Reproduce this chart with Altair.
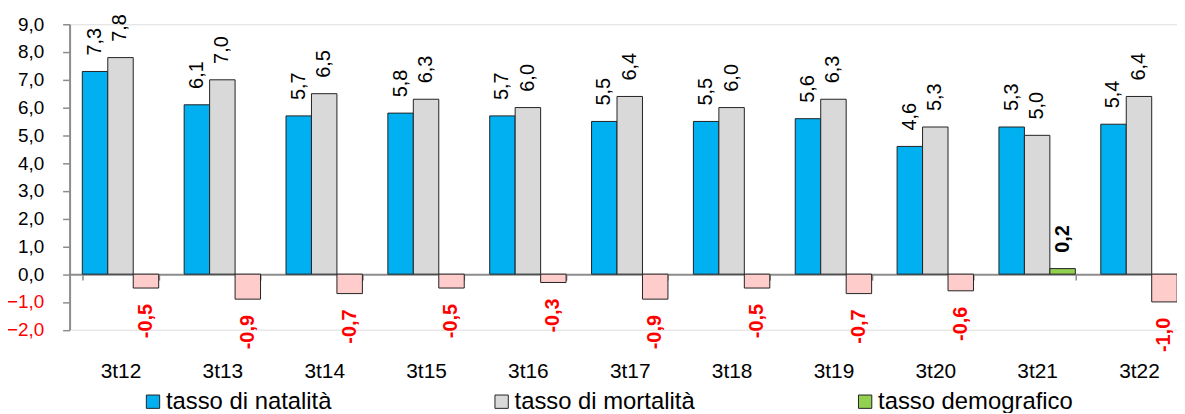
import altair as alt
import pandas as pd

periodi = ["3t12", "3t13", "3t14", "3t15", "3t16", "3t17", "3t18", "3t19", "3t20", "3t21", "3t22"]
natalita = [7.3, 6.1, 5.7, 5.8, 5.7, 5.5, 5.5, 5.6, 4.6, 5.3, 5.4]
mortalita = [7.8, 7.0, 6.5, 6.3, 6.0, 6.4, 6.0, 6.3, 5.3, 5.0, 6.4]
demografico = [-0.5, -0.9, -0.7, -0.5, -0.3, -0.9, -0.5, -0.7, -0.6, 0.2, -1.0]
serie = ["tasso di natalità", "tasso di mortalità", "tasso demografico"]
colori = ["#00B0F0", "#D9D9D9", "#92D050"]
y_ticks = [-2, -1, 0, 1, 2, 3, 4, 5, 6, 7, 8, 9]

rows = []
for i, p in enumerate(periodi):
    for s, vals in zip(serie, [natalita, mortalita, demografico]):
        rows.append({"periodo": p, "serie": s, "valore": vals[i],
                     "etichetta": f"{vals[i]:.1f}".replace(".", ",")})
df = pd.DataFrame(rows)

FONT = "Liberation Sans"

x_enc = alt.X("periodo:N", sort=periodi, title=None,
              scale=alt.Scale(range=[0, 1128], paddingInner=0.25, paddingOuter=0.125),
              axis=alt.Axis(offset=-55.9, domainColor="#8c8c8c", domainWidth=2,
                            tickColor="#8c8c8c", tickWidth=1.5, tickSize=6, tickBand="extent",
                            labelFontSize=21, labelColor="black", labelPadding=81,
                            labelAngle=0, labelFont=FONT))
xo_enc = alt.XOffset("serie:N", sort=serie, scale=alt.Scale(paddingInner=0, paddingOuter=0))
y_enc = alt.Y("valore:Q", title=None,
              scale=alt.Scale(domain=[-2, 9], nice=False, zero=False),
              axis=alt.Axis(values=y_ticks, grid=False, domainColor="#8c8c8c", domainWidth=2,
                            tickColor="#8c8c8c", tickWidth=1.5, tickSize=7, labelPadding=19,
                            labelFontSize=19, labelFont=FONT,
                            labelExpr="replace(format(datum.value, '.1f'), '.', ',')",
                            labelColor=alt.condition("datum.value < 0", alt.value("red"), alt.value("black"))))

base = alt.Chart(df).encode(x=x_enc, xOffset=xo_enc, y=y_enc)

bars = base.mark_bar(stroke="#222222", strokeWidth=1).encode(
    color=alt.condition(
        "datum.valore < 0",
        alt.value("#FFCCCC"),
        alt.Color("serie:N", sort=serie,
                  scale=alt.Scale(domain=serie, range=colori),
                  legend=alt.Legend(title=None, orient="none", direction="horizontal",
                                    columns=3, columnPadding=159, legendX=72, legendY=368,
                                    symbolType="square", symbolSize=180, symbolStrokeColor="#222222",
                                    symbolStrokeWidth=1, labelFontSize=24, labelFont=FONT,
                                    labelLimit=400, labelOffset=1, padding=0, gridAlign="each"))
    )
)

txt_norm = base.transform_filter("datum.serie != 'tasso demografico'").mark_text(
    angle=270, align="left", baseline="middle", dx=16, fontSize=20, font=FONT, color="black"
).encode(text="etichetta:N")

txt_pos = base.transform_filter("datum.serie == 'tasso demografico' && datum.valore >= 0").mark_text(
    angle=270, align="left", baseline="middle", dx=16, fontSize=20, font=FONT, color="black",
    fontWeight="bold"
).encode(text="etichetta:N")

txt_neg = base.transform_filter("datum.serie == 'tasso demografico' && datum.valore < 0").mark_text(
    angle=270, align="right", baseline="middle", dx=-16, fontSize=20, font=FONT, color="red",
    fontWeight="bold"
).encode(text="etichetta:N")

chart = alt.layer(bars, txt_norm, txt_pos, txt_neg).properties(
    width=1115, height=307.5,
    autosize=alt.AutoSizeParams(type="none"),
    padding={"left": 62, "top": 15, "right": 0, "bottom": 82},
).configure_view(stroke=None).configure(font=FONT)

chart.save("out.html", embed_options={"renderer": "svg", "actions": False})
